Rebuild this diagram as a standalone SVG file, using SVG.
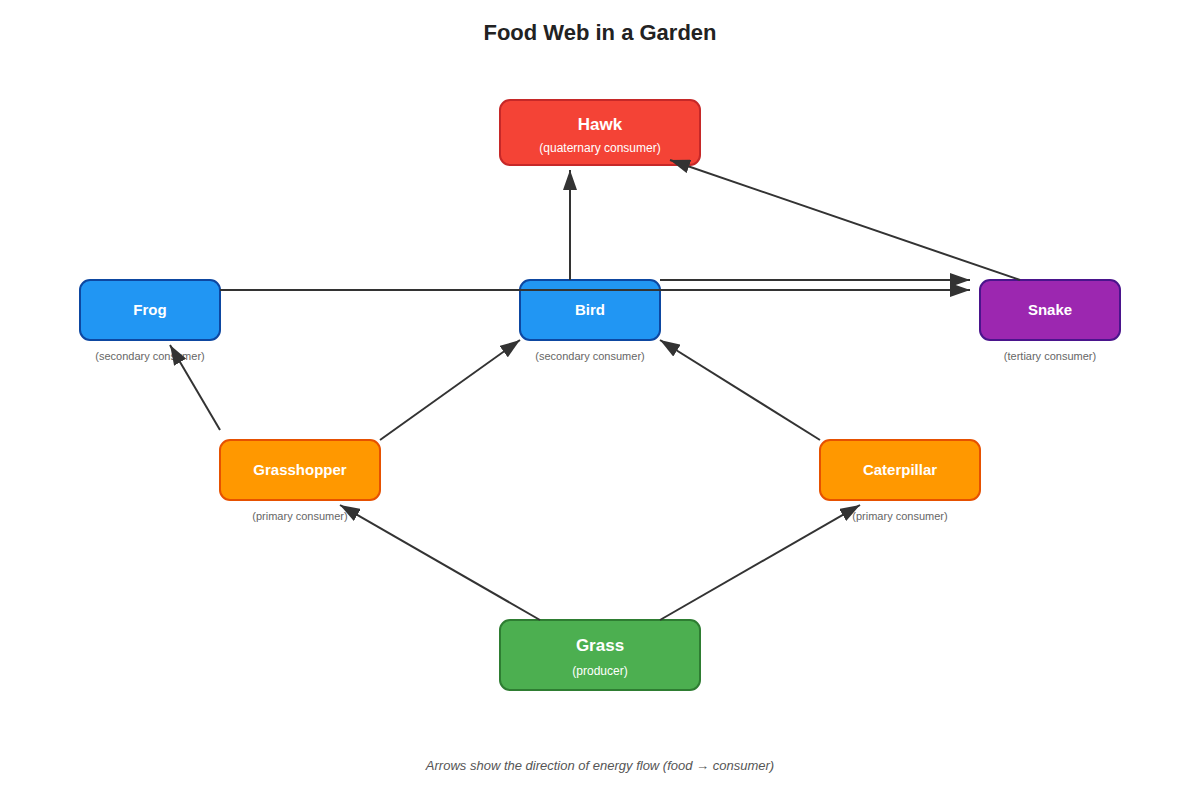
<svg xmlns="http://www.w3.org/2000/svg" width="1200" height="800" viewBox="0 0 1200 800">
<style>
.title{font-family:"Liberation Sans",Arial,sans-serif;font-size:22px;font-weight:bold;fill:#222;text-anchor:middle}
.name{font-family:"Liberation Sans",Arial,sans-serif;font-size:15px;font-weight:bold;fill:#fff;text-anchor:middle}
.big{font-size:17px}
.inner{font-family:"Liberation Sans",Arial,sans-serif;font-size:12px;fill:#fff;text-anchor:middle}
.sub{font-family:"Liberation Sans",Arial,sans-serif;font-size:11px;fill:#666;text-anchor:middle}
.cap{font-family:"Liberation Sans",Arial,sans-serif;font-size:13px;font-style:italic;fill:#555;text-anchor:middle}
.edge{stroke:#333;stroke-width:2;fill:none;marker-end:url(#arrow)}
.box{stroke-width:2}
</style>
<defs>
<marker id="arrow" viewBox="0 0 10 7" refX="10" refY="3.5" markerWidth="10" markerHeight="7" orient="auto" markerUnits="strokeWidth">
<polygon points="0,0 10,3.5 0,7" fill="#333"/>
</marker>
</defs>
<rect width="1200" height="800" fill="#fff"/>
<text class="title" x="600" y="40">Food Web in a Garden</text>

<g id="hawk">
<rect class="box" x="500" y="100" width="200" height="65" rx="10" fill="#f44336" stroke="#c62828"/>
<text class="name big" x="600" y="130">Hawk</text>
<text class="inner" x="600" y="152">(quaternary consumer)</text>
</g>
<g id="frog">
<rect class="box" x="80" y="280" width="140" height="60" rx="10" fill="#2196f3" stroke="#0d47a1"/>
<text class="name" x="150" y="315">Frog</text>
<text class="sub" x="150" y="360">(secondary consumer)</text>
</g>
<g id="bird">
<rect class="box" x="520" y="280" width="140" height="60" rx="10" fill="#2196f3" stroke="#0d47a1"/>
<text class="name" x="590" y="315">Bird</text>
<text class="sub" x="590" y="360">(secondary consumer)</text>
</g>
<g id="snake">
<rect class="box" x="980" y="280" width="140" height="60" rx="10" fill="#9c27b0" stroke="#4a148c"/>
<text class="name" x="1050" y="315">Snake</text>
<text class="sub" x="1050" y="360">(tertiary consumer)</text>
</g>
<g id="grasshopper">
<rect class="box" x="220" y="440" width="160" height="60" rx="10" fill="#ff9800" stroke="#e65100"/>
<text class="name" x="300" y="475">Grasshopper</text>
<text class="sub" x="300" y="520">(primary consumer)</text>
</g>
<g id="caterpillar">
<rect class="box" x="820" y="440" width="160" height="60" rx="10" fill="#ff9800" stroke="#e65100"/>
<text class="name" x="900" y="475">Caterpillar</text>
<text class="sub" x="900" y="520">(primary consumer)</text>
</g>
<g id="grass">
<rect class="box" x="500" y="620" width="200" height="70" rx="10" fill="#4caf50" stroke="#2e7d32"/>
<text class="name big" x="600" y="651">Grass</text>
<text class="inner" x="600" y="675">(producer)</text>
</g>

<g id="connectors">
<line class="edge" x1="540" y1="620" x2="340" y2="505"/>
<line class="edge" x1="660" y1="620" x2="860" y2="505"/>
<line class="edge" x1="220" y1="430" x2="170" y2="345"/>
<line class="edge" x1="380" y1="440" x2="520" y2="340"/>
<line class="edge" x1="820" y1="440" x2="660" y2="340"/>
<line class="edge" x1="570" y1="280" x2="570" y2="170"/>
<line class="edge" x1="660" y1="280" x2="970" y2="280"/>
<line class="edge" x1="220" y1="290" x2="970" y2="290"/>
<line class="edge" x1="1020" y1="280" x2="670" y2="160"/>
</g>

<text class="cap" x="600" y="770">Arrows show the direction of energy flow (food → consumer)</text>
</svg>
